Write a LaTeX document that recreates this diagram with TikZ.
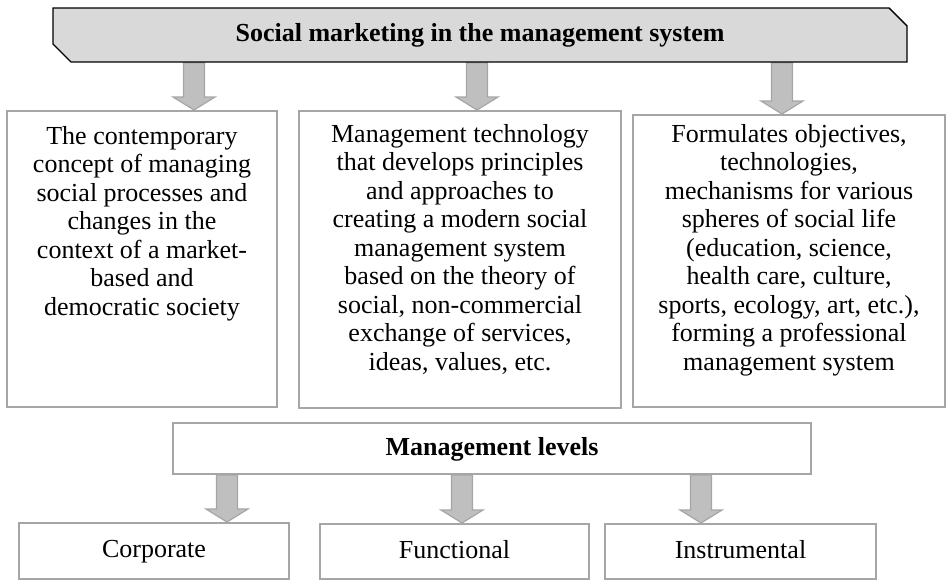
\documentclass[tikz,border=0pt]{standalone}
\usepackage{fontspec}
\setmainfont{Liberation Serif}
\usepackage{xcolor}
\usetikzlibrary{shapes,arrows,positioning,calc,backgrounds}

\definecolor{boxgray}{HTML}{A6A6A6}
\definecolor{arrowgray}{HTML}{BFBFBF}
\definecolor{headgray}{HTML}{D9D9D9}

\tikzset{
    headbox/.style={
        chamfered rectangle,
        chamfered rectangle corners={north east,south west},
        chamfered rectangle xsep=4.5pt,
        chamfered rectangle ysep=4.5pt,
        draw=black,
        line width=0.7pt,
        fill=headgray,
        inner sep=0pt,
        text height=9pt,
        text depth=2.5pt,
        font=\fontsize{13}{14.25}\selectfont\bfseries
    },
    levelbox/.style={
        draw=boxgray,
        line width=1pt,
        fill=white,
        inner sep=0pt,
        text height=9pt,
        text depth=2.5pt,
        font=\fontsize{13}{14.25}\selectfont
    },
    midbox/.style={
        draw=boxgray,
        line width=1pt,
        fill=white,
        inner sep=0pt
    },
    midtext/.style={
        align=center,
        inner sep=0pt,
        font=\fontsize{13}{14.25}\selectfont
    },
    grayarrow/.style={
        draw=boxgray,
        line width=0.6pt,
        fill=arrowgray,
        line join=miter
    }
}

\newcommand{\levelarrow}[3]{%
    \coordinate (from) at (#1|-#2.south);
    \coordinate (to) at (#1|-#3.north);
    \draw[grayarrow]
        ($(from)+(-10.5,0)$) -- ($(to)+(-10.5,-13)$) -- ($(to)+(-21,-13)$) -- (to)
        -- ($(to)+(21,-13)$) -- ($(to)+(10.5,-13)$) -- ($(from)+(10.5,0)$) -- cycle;
}

\begin{document}
\begin{tikzpicture}[x=0.5pt,y=-0.5pt]
                \useasboundingbox (0,0) rectangle (946,580);

                \node[headbox, minimum width=427pt, minimum height=27pt] (social) at (480,35)
                    {Social marketing in the management system};

                \node[midbox, minimum width=135pt, minimum height=148pt] (concept) at (142,259) {};
                \node[midbox, minimum width=161pt, minimum height=148.5pt] (technology) at (460,259.5) {};
                \node[midbox, minimum width=156pt, minimum height=146pt] (objectives) at (789,261) {};

                \node[midtext, below=8pt of concept.north] (concepttext)
                    {The contemporary\\concept of managing\\social processes and\\changes in the\\context of a market-\\based and\\democratic society};
                \node[midtext, below=7pt of technology.north] (technologytext)
                    {Management technology\\that develops principles\\and approaches to\\creating a modern social\\management system\\based on the theory of\\social, non-commercial\\exchange of services,\\ideas, values, etc.};
                \node[midtext, below=5pt of objectives.north] (objectivestext)
                    {Formulates objectives,\\technologies,\\mechanisms for various\\spheres of social life\\(education, science,\\health care, culture,\\sports, ecology, art, etc.),\\forming a professional\\management system};

                \node[levelbox, minimum width=319pt, minimum height=25.5pt, font=\fontsize{13}{14.25}\selectfont\bfseries] (levels) at (492,448.5)
                    {Management levels};

                \node[levelbox, minimum width=135pt, minimum height=28pt] (corporate) at (154,551) {Corporate};
                \node[levelbox, minimum width=134.5pt, minimum height=27.5pt] (functional) at (454.5,551.5) {Functional};
                \node[levelbox, minimum width=135.5pt, minimum height=27.5pt] (instrumental) at (740.5,551.5) {Instrumental};

                \coordinate (s1) at (194,0);
                \coordinate (s2) at (477,0);
                \coordinate (s3) at (782,0);
                \coordinate (t1) at (227,0);
                \coordinate (t2) at (462,0);
                \coordinate (t3) at (701,0);

                \begin{scope}[on background layer]
                    \levelarrow{s1}{social}{concept}
                    \levelarrow{s2}{social}{technology}
                    \levelarrow{s3}{social}{objectives}
                    \levelarrow{t1}{levels}{corporate}
                    \levelarrow{t2}{levels}{functional}
                    \levelarrow{t3}{levels}{instrumental}
                \end{scope}

            \end{tikzpicture}
\end{document}
